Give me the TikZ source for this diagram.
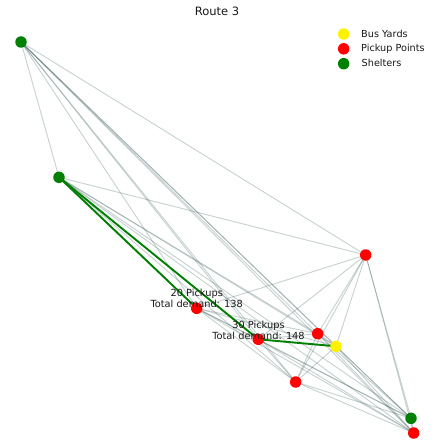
\documentclass[tikz,border=0pt]{standalone}
\usepackage{fontspec}
\setmainfont{DejaVu Sans}
\pgfdeclarelayer{background}
\pgfsetlayers{background,main}
\definecolor{edgecol}{RGB}{47,79,79}
\definecolor{mgreen}{RGB}{0,128,0}
\definecolor{txtcol}{RGB}{25,25,25}
\tikzset{
  dot/.style={circle,inner sep=0pt,minimum size=11.5pt,draw=none},
  shelter/.style={dot,fill=mgreen},
  pickup/.style={dot,fill=red},
  yard/.style={dot,fill=yellow},
  edge/.style={draw=edgecol,opacity=0.26,line width=0.95pt},
  route/.style={draw=mgreen,line width=1.9pt},
  lbl/.style={align=center,text=txtcol,font=\fontsize{9.8}{11.3}\selectfont,inner sep=0pt},
  legtxt/.style={anchor=west,text=txtcol,font=\fontsize{9.7}{11}\selectfont,inner sep=0pt}
}
\begin{document}
\begin{tikzpicture}[x=1pt,y=-1pt]
\useasboundingbox (0,0) rectangle (434,441);
% nodes
\node[shelter] (n1) at (21,42) {};
\node[shelter] (n2) at (59,177.3) {};
\node[shelter] (n3) at (411,418.3) {};
\node[pickup] (n4) at (365.7,255) {};
\node[pickup] (n5) at (196.7,308.3) {};
\node[pickup] (n6) at (317.7,333.7) {};
\node[pickup] (n7) at (258.3,339.3) {};
\node[pickup] (n8) at (295.7,382) {};
\node[pickup] (n9) at (413.7,433) {};
\node[yard] (n10) at (336,346.3) {};
\begin{pgfonlayer}{background}
\foreach \i in {1,...,9}{
  \pgfmathtruncatemacro\k{\i+1}
  \foreach \j in {\k,...,10}{
    \draw[edge] (n\i.center) -- (n\j.center);
  }
}
\draw[route] (n2.center) -- (n5.center);
\draw[route] (n2.center) -- (n7.center);
\draw[route] (n7.center) -- (n10.center);
\end{pgfonlayer}
% labels
\node[lbl] (l5) at (196.7,298.5) {20 Pickups\\Total demand: 138};
\node[lbl] (l7) at (258.5,330.2) {30 Pickups\\Total demand: 148};
% title
\node[text=txtcol,font=\fontsize{11.5}{13}\selectfont,inner sep=0pt] (title) at (217,11) {Route 3};
% legend
\node[yard] (ly) at (343.7,34) {};
\node[pickup] (lp) at (343.7,48.8) {};
\node[shelter] (ls) at (343.7,63.7) {};
\node[legtxt] (ty) at (361,34) {Bus Yards};
\node[legtxt] (tp) at (361,48.5) {Pickup Points};
\node[legtxt] (ts) at (361.5,63) {Shelters};
\end{tikzpicture}
\end{document}
